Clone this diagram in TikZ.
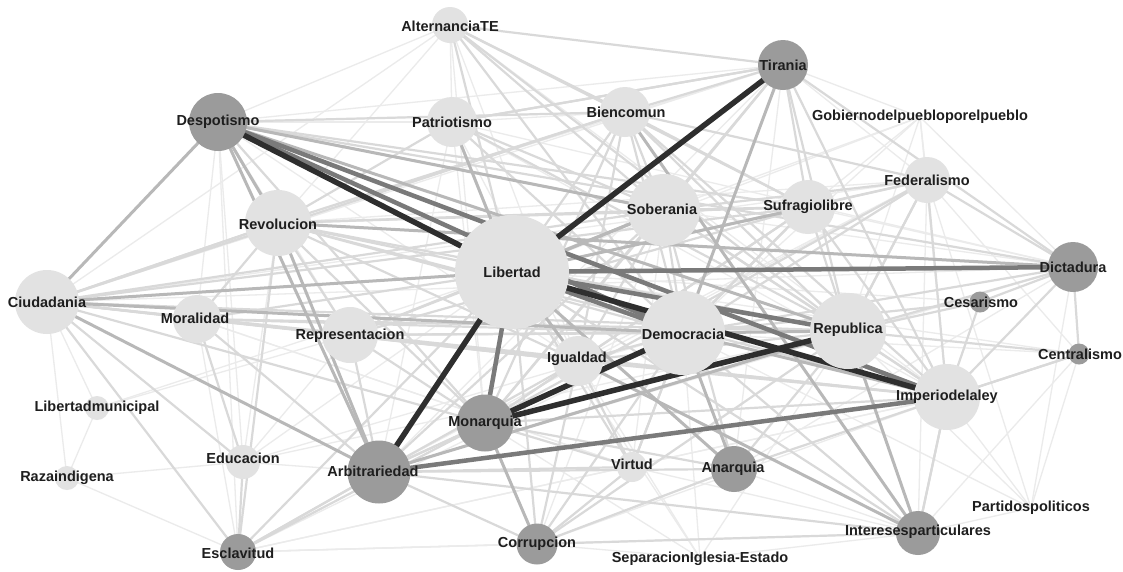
\documentclass[tikz,border=0pt]{standalone}
\usepackage{fontspec}
\setmainfont{Liberation Sans}
\definecolor{lightnode}{HTML}{E2E2E2}
\definecolor{darknode}{HTML}{9B9B9B}
\definecolor{txt}{HTML}{1E1E1E}
\definecolor{ea}{HTML}{EBEBEB}
\definecolor{eb}{HTML}{D9D9D9}
\definecolor{ec}{HTML}{B8B8B8}
\definecolor{ed}{HTML}{7A7A7A}
\definecolor{ee}{HTML}{2E2E2E}
\tikzset{
  ea/.style={draw=ea,line width=1.3pt},
  eb/.style={draw=eb,line width=2.2pt},
  ec/.style={draw=ec,line width=3pt},
  ed/.style={draw=ed,line width=4.5pt},
  ee/.style={draw=ee,line width=5.5pt},
  lnode/.style={circle,fill=lightnode,inner sep=0pt,minimum size=#1},
  dnode/.style={circle,fill=darknode,inner sep=0pt,minimum size=#1},
  lbl/.style={font=\bfseries\fontsize{14.5}{16}\selectfont,text=txt,inner sep=0pt}
}
\begin{document}
\begin{tikzpicture}[x=1pt,y=-1pt]
\fill[white] (0,0) rectangle (1123,571);
\useasboundingbox (0,0) rectangle (1123,571);
% centres
\coordinate (desp) at (218,122);
\coordinate (alt) at (450,25);
\coordinate (pat) at (452,122);
\coordinate (bien) at (625,112);
\coordinate (tir) at (783,65);
\coordinate (gob) at (920,117);
\coordinate (fed) at (927,180);
\coordinate (sob) at (664,210);
\coordinate (suf) at (808,207);
\coordinate (rev) at (278,223);
\coordinate (lib) at (512,272);
\coordinate (dict) at (1073,267);
\coordinate (ciud) at (47,302);
\coordinate (mor) at (197,319);
\coordinate (rep) at (350,335);
\coordinate (dem) at (683,333);
\coordinate (repu) at (848,331);
\coordinate (ces) at (980,302);
\coordinate (cent) at (1079,354);
\coordinate (igu) at (578,361);
\coordinate (imp) at (947,397);
\coordinate (lmun) at (97,408);
\coordinate (mon) at (485,423);
\coordinate (raz) at (67,478);
\coordinate (edu) at (243,462);
\coordinate (arb) at (379,472);
\coordinate (vir) at (632,467);
\coordinate (ana) at (734,469);
\coordinate (part) at (1031,508);
\coordinate (inte) at (918,533);
\coordinate (escl) at (238,552);
\coordinate (corr) at (537,544);
\coordinate (sep) at (700,558);
% very light edges
\foreach \a/\b in {gob/suf,gob/fed,gob/dem,gob/lib,gob/repu,gob/dict,gob/imp,gob/sob,gob/tir,
  part/imp,part/repu,part/dem,part/dict,part/fed,part/cent,part/inte,
  sep/dem,sep/lib,sep/corr,sep/inte,sep/repu,sep/igu,sep/mon,
  lmun/rep,lmun/lib,lmun/raz,lmun/ciud,raz/escl,raz/edu,raz/ciud,
  ces/lib,ces/imp,cent/fed,cent/lib,cent/inte,cent/dem,
  alt/desp,alt/ciud,alt/pat,alt/rev,alt/igu,alt/mon,alt/imp,
  vir/sob,vir/mor,vir/inte,escl/dem,escl/corr,escl/mon,escl/inte,escl/imp,
  edu/rep,edu/lib,edu/dem,edu/arb,edu/rev,edu/repu,mor/vir,mor/escl,mor/imp,
  fed/ciud,fed/rev,fed/igu,fed/arb,fed/inte,dict/ciud,dict/arb,dict/suf,dict/sob,
  tir/arb,tir/ana,tir/ciud,tir/rev,tir/fed,tir/mon,imp/escl,imp/corr,
  corr/sob,corr/vir,corr/ana,corr/inte,corr/escl,ana/inte,ana/dict,
  desp/pat,desp/bien,desp/tir,desp/mor,desp/edu,desp/escl,desp/rep,desp/igu,desp/mon,
  pat/bien,pat/dict,pat/mon,pat/arb,pat/igu,pat/imp}
  \draw[ea] (\a) -- (\b);
% light edges
\foreach \a/\b in {alt/bien,alt/tir,alt/lib,alt/sob,alt/suf,alt/dem,alt/repu,
  pat/rev,pat/sob,pat/dem,pat/repu,pat/tir,
  bien/rev,bien/lib,bien/sob,bien/dem,bien/repu,bien/tir,bien/suf,bien/fed,bien/ciud,bien/mon,bien/igu,bien/imp,bien/desp,
  tir/sob,tir/suf,tir/repu,tir/imp,tir/dict,tir/pat,
  fed/suf,fed/sob,fed/lib,fed/dem,fed/repu,fed/dict,fed/imp,fed/mon,
  sob/dem,sob/repu,sob/suf,sob/rev,sob/ciud,sob/igu,sob/imp,sob/mon,sob/arb,sob/ana,
  suf/dem,suf/repu,suf/imp,suf/rev,suf/ciud,suf/mon,suf/igu,suf/rep,
  rev/lib,rev/dem,rev/repu,rev/ciud,rev/mor,rev/rep,rev/mon,rev/igu,rev/imp,rev/escl,
  ciud/repu,ciud/rev,ciud/mor,ciud/rep,ciud/edu,ciud/escl,ciud/mon,ciud/igu,ciud/imp,
  mor/lib,mor/dem,mor/repu,mor/rep,mor/edu,mor/arb,mor/igu,
  rep/lib,rep/dem,rep/repu,rep/arb,rep/mon,rep/sob,rep/igu,rep/imp,
  dem/igu,dem/arb,dem/vir,dem/corr,dem/inte,dem/dict,dem/suf,
  repu/igu,repu/arb,repu/corr,repu/dict,repu/ces,repu/cent,repu/fed,repu/imp,
  ces/dict,ces/dem,cent/dict,cent/imp,
  igu/mon,igu/arb,igu/vir,igu/corr,igu/imp,igu/lib,
  imp/ana,imp/dict,imp/ces,imp/cent,imp/inte,
  mon/imp,mon/arb,mon/ana,mon/vir,mon/desp,mon/tir,mon/escl,
  arb/corr,arb/escl,arb/ana,arb/vir,arb/inte,
  vir/lib,vir/dem,vir/corr,
  ana/repu,ana/corr,ana/lib,
  inte/lib,inte/imp,inte/corr,
  escl/lib,escl/edu,escl/arb,corr/lib,corr/mon,
  desp/sob,desp/suf,desp/rev,desp/dict}
  \draw[eb] (\a) -- (\b);
% medium edges
\foreach \a/\b in {desp/repu,desp/sob,desp/ciud,desp/arb,desp/rev,
  ciud/lib,ciud/dem,ciud/arb,rev/dict,rev/arb,tir/dem,
  bien/inte,igu/inte,lib/ana,mon/corr,dem/ana,repu/inte,pat/lib,
  lib/suf,lib/sob,dem/imp,dem/repu,lib/igu,dem/mon,repu/arb,sob/lib}
  \draw[ec] (\a) -- (\b);
% dark edges
\foreach \a/\b in {lib/dict,desp/dem,mon/lib,arb/imp,lib/repu,desp/imp,lib/dem}
  \draw[ed] (\a) -- (\b);
% black edges
\foreach \a/\b in {desp/lib,tir/lib,arb/lib,mon/repu,lib/imp,mon/dem}
  \draw[ee] (\a) -- (\b);
% circles
\node[dnode=58pt] (n-desp) at (desp) {};
\node[lnode=36pt] (n-alt) at (alt) {};
\node[lnode=50pt] (n-pat) at (pat) {};
\node[lnode=50pt] (n-bien) at (bien) {};
\node[dnode=50pt] (n-tir) at (tir) {};
\node[lnode=46pt] (n-fed) at (fed) {};
\node[lnode=72pt] (n-sob) at (sob) {};
\node[lnode=54pt] (n-suf) at (suf) {};
\node[lnode=66pt] (n-rev) at (rev) {};
\node[lnode=114pt] (n-lib) at (lib) {};
\node[dnode=50pt] (n-dict) at (dict) {};
\node[lnode=64pt] (n-ciud) at (ciud) {};
\node[lnode=48pt] (n-mor) at (mor) {};
\node[lnode=56pt] (n-rep) at (rep) {};
\node[lnode=84pt] (n-dem) at (dem) {};
\node[lnode=76pt] (n-repu) at (repu) {};
\node[dnode=21pt] (n-ces) at (ces) {};
\node[dnode=21pt] (n-cent) at (cent) {};
\node[lnode=50pt] (n-igu) at (igu) {};
\node[lnode=66pt] (n-imp) at (imp) {};
\node[lnode=24pt] (n-lmun) at (lmun) {};
\node[dnode=57pt] (n-mon) at (mon) {};
\node[lnode=24pt] (n-raz) at (raz) {};
\node[lnode=34pt] (n-edu) at (edu) {};
\node[dnode=63pt] (n-arb) at (arb) {};
\node[lnode=30pt] (n-vir) at (vir) {};
\node[dnode=46pt] (n-ana) at (ana) {};
\node[dnode=44pt] (n-inte) at (inte) {};
\node[dnode=36pt] (n-escl) at (escl) {};
\node[dnode=41pt] (n-corr) at (corr) {};
% labels
\node[lbl] (t-desp) at (218,122) {Despotismo};
\node[lbl] (t-alt) at (450,26) {AlternanciaTE};
\node[lbl] (t-pat) at (452,122) {Patriotismo};
\node[lbl] (t-bien) at (626,112) {Biencomun};
\node[lbl] (t-tir) at (783,65) {Tirania};
\node[lbl] (t-gob) at (920,117) {Gobiernodelpuebloporelpueblo};
\node[lbl] (t-fed) at (927,180) {Federalismo};
\node[lbl] (t-sob) at (662,209) {Soberania};
\node[lbl] (t-suf) at (808,207) {Sufragiolibre};
\node[lbl] (t-rev) at (278,224) {Revolucion};
\node[lbl] (t-lib) at (512,272) {Libertad};
\node[lbl] (t-dict) at (1073,267) {Dictadura};
\node[lbl] (t-ciud) at (47,302) {Ciudadania};
\node[lbl] (t-mor) at (195,318) {Moralidad};
\node[lbl] (t-rep) at (350,336) {Representacion};
\node[lbl] (t-dem) at (683,334) {Democracia};
\node[lbl] (t-repu) at (848,330) {Republica};
\node[lbl] (t-ces) at (981,302) {Cesarismo};
\node[lbl] (t-cent) at (1080,354) {Centralismo};
\node[lbl] (t-igu) at (577,359) {Igualdad};
\node[lbl] (t-imp) at (947,397) {Imperiodelaley};
\node[lbl] (t-lmun) at (97,408) {Libertadmunicipal};
\node[lbl] (t-mon) at (485,423) {Monarquia};
\node[lbl] (t-raz) at (67,478) {Razaindigena};
\node[lbl] (t-edu) at (243,458) {Educacion};
\node[lbl] (t-arb) at (373,471) {Arbitrariedad};
\node[lbl] (t-vir) at (632,464) {Virtud};
\node[lbl] (t-ana) at (733,469) {Anarquia};
\node[lbl] (t-part) at (1031,508) {Partidospoliticos};
\node[lbl] (t-inte) at (918,532) {Interesesparticulares};
\node[lbl] (t-escl) at (238,553) {Esclavitud};
\node[lbl] (t-corr) at (537,544) {Corrupcion};
\node[lbl] (t-sep) at (700,559) {SeparacionIglesia-Estado};
\end{tikzpicture}
\end{document}
